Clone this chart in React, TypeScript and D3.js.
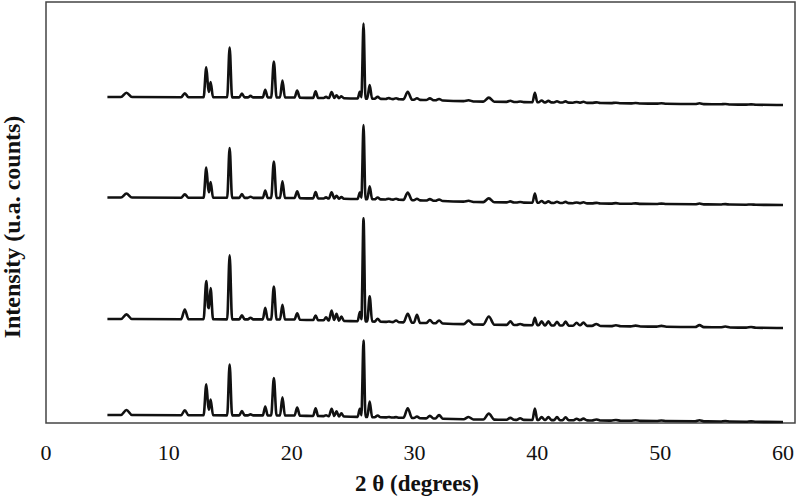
import React from "react";
import * as d3 from "d3";

// 2θ positions of the diffraction peaks (shared by the four patterns)
const peakTheta = [6.55, 11.3, 13.05, 13.4, 14.95, 15.95, 16.65, 17.85, 18.55, 19.25, 20.45, 21.95, 22.8, 23.25, 23.65, 24.05, 25.55, 25.85, 26.35, 27.0, 27.9, 28.5, 29.45, 30.2, 31.25, 32.0, 34.4, 36.05, 37.8, 38.6, 39.8, 40.35, 40.9, 41.6, 42.3, 43.2, 43.75, 44.8, 46.4, 48.0, 50.1, 53.2, 55.3, 57.4];
// half base width of each peak (degrees)
const peakWidth = [0.45, 0.3, 0.22, 0.2, 0.2, 0.22, 0.22, 0.2, 0.22, 0.2, 0.22, 0.2, 0.2, 0.22, 0.2, 0.2, 0.18, 0.16, 0.2, 0.25, 0.25, 0.25, 0.35, 0.25, 0.3, 0.3, 0.4, 0.45, 0.3, 0.3, 0.2, 0.25, 0.25, 0.25, 0.25, 0.3, 0.3, 0.35, 0.4, 0.4, 0.4, 0.35, 0.4, 0.4];

// peak heights above background (counts), top to bottom pattern
const heights1 = [43, 40, 300, 153, 497, 37, 15, 77, 360, 170, 70, 65, 12, 60, 30, 20, 67, 750, 136, 20, 10, 10, 77, 15, 18, 15, 10, 40, 12, 5, 95, 18, 15, 12, 12, 8, 10, 6, 5, 4, 4, 8, 4, 3];
const heights2 = [40, 35, 302, 158, 498, 37, 12, 75, 365, 168, 68, 62, 12, 62, 30, 18, 65, 740, 128, 18, 8, 10, 75, 15, 15, 15, 10, 38, 10, 5, 92, 18, 15, 12, 12, 8, 10, 6, 5, 4, 4, 8, 4, 3];
const heights3 = [47, 97, 383, 313, 640, 40, 17, 117, 330, 147, 64, 46, 32, 100, 69, 43, 91, 1030, 251, 30, 5, 17, 87, 80, 30, 30, 37, 81, 35, 10, 73, 40, 40, 38, 40, 30, 32, 20, 10, 8, 8, 20, 8, 6];
const heights4 = [50, 50, 310, 157, 507, 43, 10, 90, 373, 183, 80, 78, 10, 75, 50, 31, 81, 765, 156, 17, 5, 5, 97, 16, 26, 37, 24, 60, 19, 16, 115, 30, 30, 30, 30, 15, 18, 10, 6, 5, 5, 10, 5, 4];

// background level of each pattern (stacked offsets included), counts
const bgTheta = [5, 20, 28, 35, 45, 60];
const background1 = [3260, 3255, 3240, 3215, 3200, 3180];
const background2 = [2255, 2250, 2235, 2210, 2195, 2180];
const background3 = [1040, 1035, 1010, 985, 970, 950];
const background4 = [80, 75, 55, 35, 25, 10];

const xTicks = [0, 10, 20, 30, 40, 50, 60];

const W = 796;
const H = 502;
const frame = { left: 46, top: 2, right: 795, bottom: 423 };

const x = d3.scaleLinear().domain([0, 60]).range([46, 783]);
const y = d3.scaleLinear().domain([0, 4210]).range([frame.bottom, frame.top]);

function buildPattern(heights: number[], background: number[]): [number, number][] {
  const bg = d3.scaleLinear().domain(bgTheta).range(background);
  const knots = new Set<number>([5, 60]);
  bgTheta.forEach((t) => knots.add(t));
  peakTheta.forEach((p, i) => {
    knots.add(p - peakWidth[i]);
    knots.add(p);
    knots.add(p + peakWidth[i]);
  });
  const xs = Array.from(knots).filter((t) => t >= 5 && t <= 60).sort((a, b) => a - b);
  return xs.map((t) => {
    let v = bg(t);
    peakTheta.forEach((p, i) => {
      const d = Math.abs(t - p) / peakWidth[i];
      if (d < 1) v += heights[i] * (1 - d);
    });
    return [t, v];
  });
}

const patterns = [
  buildPattern(heights1, background1),
  buildPattern(heights2, background2),
  buildPattern(heights3, background3),
  buildPattern(heights4, background4),
];

const line = d3
  .line<[number, number]>()
  .x((d) => x(d[0]))
  .y((d) => y(d[1]))
  .curve(d3.curveMonotoneX);

const serif = "'Times New Roman', 'Liberation Serif', 'DejaVu Serif', serif";

export default function App() {
  return (
    <svg
      width={W}
      height={H}
      style={{ position: "absolute", left: 0, top: 0, background: "#fff" }}
      fontFamily={serif}
    >
      <rect x={0} y={0} width={W} height={H} fill="#fff" />
      <rect
        x={frame.left}
        y={frame.top}
        width={frame.right - frame.left}
        height={frame.bottom - frame.top}
        fill="none"
        stroke="#444"
        strokeWidth={1.5}
      />
      {patterns.map((p, i) => (
        <path key={i} d={line(p) || ""} fill="none" stroke="#111" strokeWidth={2.6} strokeLinejoin="round" />
      ))}
      {xTicks.map((t) => (
        <text key={t} x={x(t)} y={460} textAnchor="middle" fontSize={22} fill="#111">
          {t}
        </text>
      ))}
      <text x={417} y={491} textAnchor="middle" fontSize={23} fontWeight="bold" fill="#111">
        2 θ (degrees)
      </text>
      <text
        transform="translate(20,227) rotate(-90)"
        textAnchor="middle"
        fontSize={24}
        fontWeight="bold"
        fill="#111"
      >
        Intensity (u.a. counts)
      </text>
    </svg>
  );
}
